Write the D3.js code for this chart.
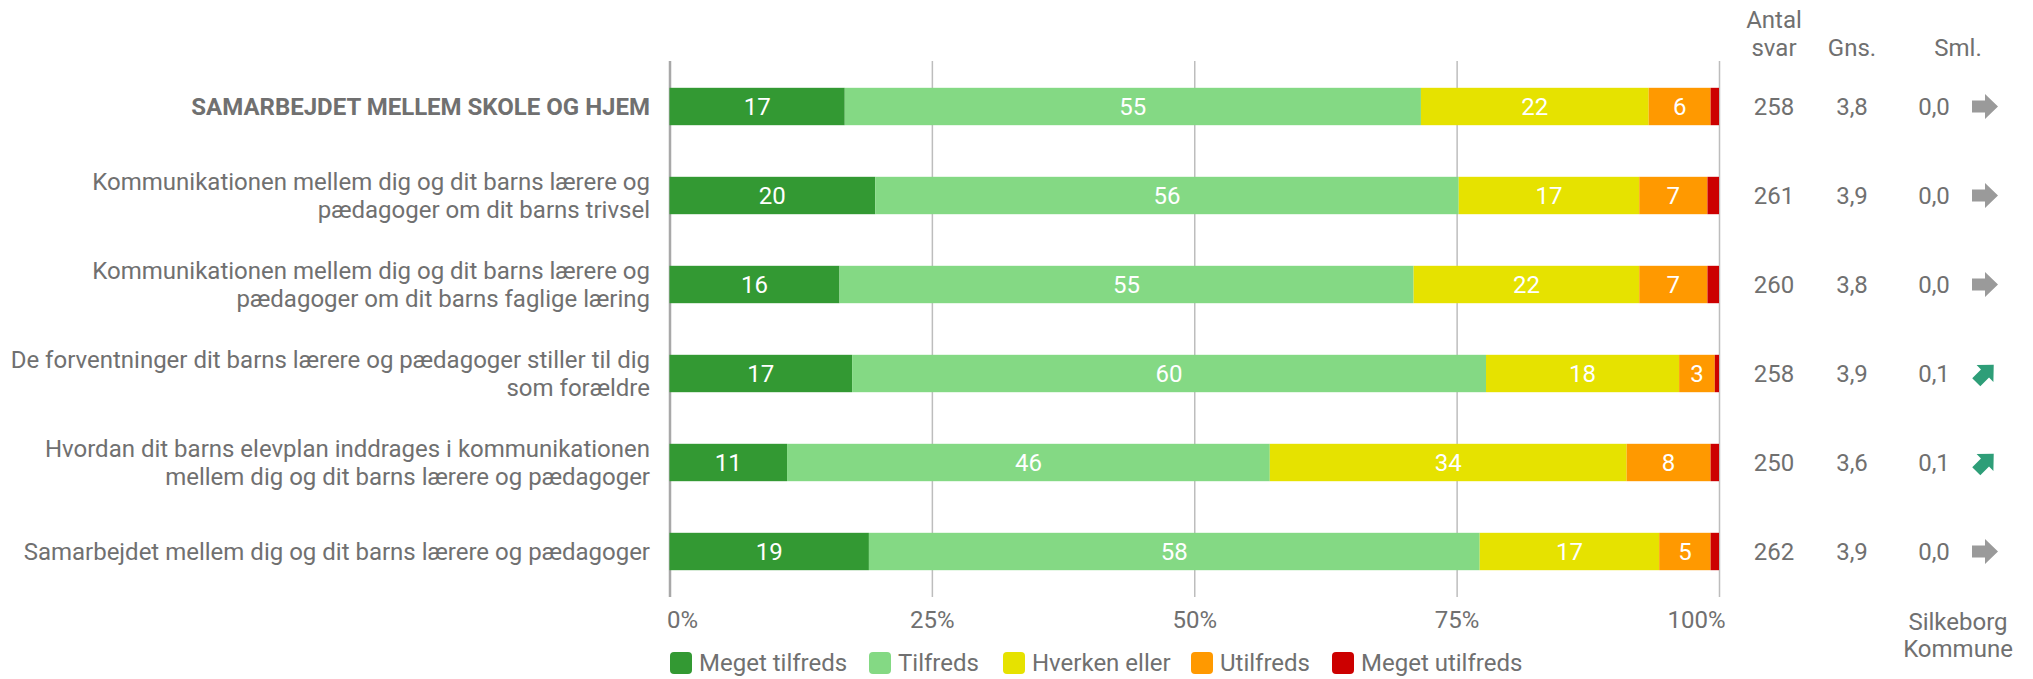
<!DOCTYPE html>
<html><head><meta charset="utf-8">
<script src="https://cdn.jsdelivr.net/npm/d3@7"></script>
<style>
html,body{margin:0;padding:0;background:#fff;}
svg{display:block;font-family:Roboto,"Noto Sans",sans-serif;}
</style></head><body>
<svg id="c" width="2033" height="679"></svg>
<script>
const categories = [
  ["SAMARBEJDET MELLEM SKOLE OG HJEM"],
  ["Kommunikationen mellem dig og dit barns lærere og", "pædagoger om dit barns trivsel"],
  ["Kommunikationen mellem dig og dit barns lærere og", "pædagoger om dit barns faglige læring"],
  ["De forventninger dit barns lærere og pædagoger stiller til dig", "som forældre"],
  ["Hvordan dit barns elevplan inddrages i kommunikationen", "mellem dig og dit barns lærere og pædagoger"],
  ["Samarbejdet mellem dig og dit barns lærere og pædagoger"]
];
const seriesNames = ["Meget tilfreds", "Tilfreds", "Hverken eller", "Utilfreds", "Meget utilfreds"];
const seriesColors = ["#339933", "#84d984", "#e6e200", "#ff9900", "#cc0000"];
const megetTilfreds  = [16.7, 19.6, 16.2, 17.4, 11.2, 19.0];
const tilfreds       = [54.9, 55.6, 54.7, 60.4, 46.0, 58.2];
const hverkenEller   = [21.7, 17.2, 21.5, 18.4, 34.0, 17.1];
const utilfreds      = [5.9, 6.5, 6.5, 3.4, 8.0, 4.9];
const megetUtilfreds = [0.8, 1.1, 1.1, 0.4, 0.8, 0.8];
const antalSvar = ["258", "261", "260", "258", "250", "262"];
const gns = ["3,8", "3,9", "3,8", "3,9", "3,6", "3,9"];
const sml = ["0,0", "0,0", "0,0", "0,1", "0,1", "0,0"];
const trend = ["flat", "flat", "flat", "up", "up", "flat"];
const xTicks = [0, 25, 50, 75, 100];

const series = [megetTilfreds, tilfreds, hverkenEller, utilfreds, megetUtilfreds];
const svg = d3.select("#c");
const textColor = "#707070";
const FS = 24;

const x = d3.scaleLinear().domain([0, 100]).range([669.5, 1719]);
const y = d3.scaleBand().domain(d3.range(categories.length)).range([62, 596]).paddingInner(0.58).paddingOuter(0.29);
const plotTop = 61, plotBottom = 597;

// grid + axis
const axis = d3.axisBottom(x).tickValues(xTicks).tickFormat(d => d + "%")
  .tickSize(-(plotBottom - plotTop)).tickPadding(14);
const gAxis = svg.append("g").attr("transform", `translate(0,${plotBottom})`).call(axis);
gAxis.select(".domain").remove();
gAxis.selectAll(".tick line").attr("stroke", "#bdbdbd").attr("stroke-width", 1.5);
gAxis.selectAll(".tick").filter(d => d === 0).select("line").attr("stroke", "#a8a8a8").attr("stroke-width", 2.5);
gAxis.selectAll(".tick text").attr("fill", textColor).style("font-size", FS + "px").style("font-family", "Roboto")
  .attr("text-anchor", d => d === 0 ? "start" : (d === 100 ? "end" : "middle"))
  .attr("x", d => d === 0 ? -3 : (d === 100 ? 6 : 0));

// stacked bars
const stackData = categories.map((c, i) => {
  let acc = 0;
  return series.map((s, k) => { const r = {i, k, x0: acc, x1: acc + s[i], v: s[i]}; acc += s[i]; return r; });
});
const rows = svg.append("g").selectAll("g").data(stackData).join("g");
rows.selectAll("rect").data(d => d).join("rect")
  .attr("x", d => x(d.x0)).attr("width", d => x(d.x1) - x(d.x0))
  .attr("y", d => y(d.i)).attr("height", y.bandwidth())
  .attr("fill", d => seriesColors[d.k]);
rows.selectAll("text").data(d => d.filter(e => e.v >= 2)).join("text")
  .attr("x", d => (x(d.x0) + x(d.x1)) / 2).attr("y", d => y(d.i) + y.bandwidth() / 2)
  .attr("dy", "0.35em").attr("text-anchor", "middle").attr("fill", "#fff")
  .style("font-size", FS + "px").text(d => Math.round(d.v));

// category labels
const labelX = 650;
categories.forEach((lines, i) => {
  const cy = y(i) + y.bandwidth() / 2;
  const t = svg.append("text").attr("text-anchor", "end").attr("fill", textColor)
    .style("font-size", FS + "px").style("font-weight", i === 0 ? "bold" : "normal");
  const n = lines.length;
  lines.forEach((l, j) => {
    t.append("tspan").attr("x", labelX).attr("y", cy + (j - (n - 1) / 2) * 28).attr("dy", "0.35em").text(l);
  });
});

// right columns
const colAntal = 1774, colGns = 1852, colSml = 1934, colArrow = 1985, colSmlHead = 1958;
const head = svg.append("g").attr("fill", textColor).style("font-size", FS + "px").attr("text-anchor", "middle");
head.append("text").attr("x", colAntal).attr("y", 28).text("Antal");
head.append("text").attr("x", colAntal).attr("y", 56).text("svar");
head.append("text").attr("x", colGns).attr("y", 56).text("Gns.");
head.append("text").attr("x", colSmlHead).attr("y", 56).text("Sml.");
head.append("text").attr("x", colSmlHead).attr("y", 630).text("Silkeborg");
head.append("text").attr("x", colSmlHead).attr("y", 657).text("Kommune");

const arrowPath = "M-13,-6 L0,-6 L0,-12.5 L13,0 L0,12.5 L0,6 L-13,6 Z";
categories.forEach((c, i) => {
  const cy = y(i) + y.bandwidth() / 2;
  const g = svg.append("g").attr("fill", textColor).style("font-size", FS + "px").attr("text-anchor", "middle");
  g.append("text").attr("x", colAntal).attr("y", cy).attr("dy", "0.35em").text(antalSvar[i]);
  g.append("text").attr("x", colGns).attr("y", cy).attr("dy", "0.35em").text(gns[i]);
  g.append("text").attr("x", colSml).attr("y", cy).attr("dy", "0.35em").text(sml[i]);
  const up = trend[i] === "up";
  svg.append("path").attr("d", arrowPath)
    .attr("transform", `translate(${colArrow},${cy}) rotate(${up ? -45 : 0}) ${up ? "scale(0.95)" : ""}`)
    .attr("fill", up ? "#2e9e78" : "#9a9a9a");
});

// legend (layout offsets in px)
const legendOffsets = [0, 199, 333, 521, 662];
const leg = svg.append("g").attr("transform", "translate(670,663)");
seriesNames.forEach((n, k) => {
  const g = leg.append("g").attr("transform", `translate(${legendOffsets[k]},0)`);
  g.append("rect").attr("x", 0).attr("y", -11).attr("width", 22).attr("height", 22).attr("rx", 4).attr("fill", seriesColors[k]);
  g.append("text").attr("x", 29).attr("y", 0).attr("dy", "0.35em").attr("fill", textColor)
    .style("font-size", FS + "px").text(n);
});
</script>
</body></html>
